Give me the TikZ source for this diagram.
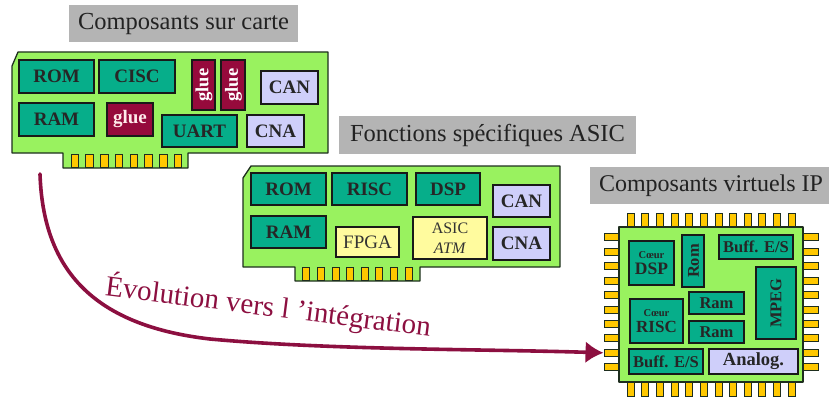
\documentclass[tikz,border=0pt]{standalone}
\usepackage{fontspec}
\setmainfont{Liberation Serif}
\usetikzlibrary{shadows,arrows.meta}
\definecolor{cardgreen}{HTML}{99F25F}
\definecolor{blockteal}{HTML}{06AE8A}
\definecolor{gluered}{HTML}{960A3C}
\definecolor{lav}{HTML}{CFCFFA}
\definecolor{paleyel}{HTML}{FFFB9E}
\definecolor{titlegrey}{HTML}{B4B4B4}
\definecolor{pingold}{HTML}{FFC800}
\definecolor{outl}{HTML}{1E2E1E}
\definecolor{evo}{HTML}{8C0F40}
\definecolor{titletext}{HTML}{222222}
\tikzset{
  shad/.style={drop shadow={shadow xshift=1.2pt,shadow yshift=-1.2pt,fill=black!80,opacity=1}},
  blk/.style={draw=black!90,line width=1.4pt,inner sep=0pt,shad,font=\bfseries},
  teal/.style={blk,fill=blockteal,text=black!85},
  gluebox/.style={blk,fill=gluered,text=white!92!red},
  lavbox/.style={blk,fill=lav,text=black!85},
  yelbox/.style={blk,fill=paleyel,font=\normalfont,text=black!80},
  cardbody/.style={draw=outl,line width=1.3pt,fill=cardgreen,line join=round},
  goldpin/.style={draw=outl,line width=.9pt,fill=pingold,inner sep=0pt},
  titlebox/.style={fill=titlegrey,text=titletext,inner sep=0pt},
  fs/.style={font=\fontsize{#1}{#1}\selectfont\bfseries}
}
\newcommand\blkbox[7][]{\node[#1,minimum width={(#5-#3)*1pt},minimum height={(#6-#4)*1pt}] (#2) at ({(#3+#5)/2},{(#4+#6)/2}) {#7};}
\begin{document}
\begin{tikzpicture}[x=1pt,y=-1pt]
\useasboundingbox (0,0) rectangle (829,401);
% titles
\blkbox[titlebox,font=\fontsize{24.5}{26}\selectfont]{t1}{69}{5}{298}{42}{Composants sur carte}
\blkbox[titlebox,font=\fontsize{24.5}{26}\selectfont]{t2}{339}{116}{636}{154}{Fonctions spécifiques ASIC}
\blkbox[titlebox,font=\fontsize{24}{26}\selectfont]{t3}{590}{167}{829}{204}{\hspace*{3pt}Composants virtuels IP}
% card 1
\draw[cardbody] (12,66)--(18,52)--(328,52)--(328,153)--(188,153)--(188,168)--(63,168)--(63,153)--(12,153)--cycle;
\foreach \i/\x in {1/74.7,2/89.5,3/104.3,4/119,5/133.8,6/148.5,7/163.3,8/178}
  \node[goldpin,minimum width=7.5pt,minimum height=13pt] (pa\i) at (\x,160.5) {};
\blkbox[teal,fs=19]{a1}{19}{60}{94}{93}{ROM}
\blkbox[teal,fs=19]{a2}{99}{60}{175}{93}{CISC}
\blkbox[gluebox]{a3}{192}{60}{215}{110}{}
\node[fs=18.5,text=white,rotate=90] (a3t) at (204,85) {glue};
\blkbox[gluebox]{a4}{221}{60}{245}{110}{}
\node[fs=18.5,text=white,rotate=90] (a4t) at (233.5,85) {glue};
\blkbox[lavbox,fs=19]{a5}{261}{71}{318}{104}{CAN}
\blkbox[teal,fs=19]{a6}{19}{103}{94}{136}{RAM}
\blkbox[gluebox,fs=19]{a7}{107}{103}{153}{136}{glue}
\blkbox[teal,fs=19]{a8}{162}{115}{237}{147}{UART}
\blkbox[lavbox,fs=19]{a9}{247}{115}{304}{147}{CNA}
% card 2
\draw[cardbody] (243,178)--(251,166)--(560,166)--(560,267)--(420,267)--(420,281)--(295,281)--(295,267)--(243,267)--cycle;
\foreach \i/\x in {1/306,2/321,3/336,4/350,5/365,6/379,7/394,8/409}
  \node[goldpin,minimum width=7.5pt,minimum height=13pt] (pb\i) at (\x,274) {};
\blkbox[teal,fs=19]{b1}{251}{173}{326}{205}{ROM}
\blkbox[teal,fs=19]{b2}{332}{173}{407}{205}{RISC}
\blkbox[teal,fs=19]{b3}{416}{173}{480}{205}{DSP}
\blkbox[lavbox,fs=19]{b4}{493}{185}{550}{217}{CAN}
\blkbox[teal,fs=19]{b5}{251}{216}{326}{248}{RAM}
\blkbox[yelbox,font=\fontsize{19}{18}\selectfont]{b6}{336}{227}{399}{257}{FPGA}
\blkbox[yelbox,font=\fontsize{16}{20.5}\selectfont,align=center]{b7}{413}{217}{487}{259}{ASIC\\\textit{ATM}}
\blkbox[lavbox,fs=19]{b8}{493}{227}{550}{260}{CNA}
% chip
\foreach \i in {1,...,12} {
  \node[goldpin,minimum width=7pt,minimum height=14pt] (pt\i) at ({630.7+(\i-1)*14.63},220) {};
  \node[goldpin,minimum width=7pt,minimum height=14pt] (pd\i) at ({630.7+(\i-1)*14.63},389) {};
}
\foreach \i in {1,...,10} {
  \node[goldpin,minimum width=15pt,minimum height=7pt] (pl\i) at (611.5,{237.3+(\i-1)*14.44}) {};
  \node[goldpin,minimum width=15pt,minimum height=7pt] (pr\i) at (810.5,{237.3+(\i-1)*14.44}) {};
}
\node[cardbody,inner sep=0pt,minimum width=184pt,minimum height=155pt] (chip) at (711,304.5) {};
\blkbox[teal,align=center]{c1}{629}{241}{674}{285}{\fontsize{10.5}{13}\selectfont Cœur\\[4pt]\fontsize{17.5}{16}\selectfont DSP}
\blkbox[teal]{c2}{682}{235}{704}{287}{}
\node[fs=16.5,rotate=90,text=black!85] (c2t) at (693.5,261) {Rom};
\blkbox[teal,fs=16.5]{c3}{719}{235}{793}{259}{Buff. E/S}
\blkbox[teal]{c4}{756}{267}{796}{339}{}
\node[fs=16.5,rotate=90,text=black!85] (c4t) at (776,303) {MPEG};
\blkbox[teal,fs=16.5]{c5}{689}{292}{744}{314}{Ram}
\blkbox[teal,fs=16.5]{c6}{689}{321}{744}{343}{Ram}
\blkbox[teal,align=center]{c7}{630}{299}{683}{343}{\fontsize{10.5}{13}\selectfont Cœur\\[4pt]\fontsize{17}{16}\selectfont RISC}
\blkbox[teal,fs=16.5]{c8}{629}{349}{703}{374}{Buff. E/S}
\blkbox[lavbox,fs=18.5]{c9}{709}{349}{798}{374}{Analog.}
% arrow
\coordinate (evostart) at (40,174);
\draw[evo,line width=3.6pt,line cap=round,-{Latex[length=18pt,width=22pt]}]
  (evostart) .. controls (43,265) and (88,325) .. (210,339) .. controls (330,350) and (480,349) .. (pl9.west);
\node[evo,font=\fontsize{29}{29}\selectfont,rotate=-7.2,anchor=base west] (evolabel) at (101,295) {Évolution vers l ’intégration};
\end{tikzpicture}
\end{document}
